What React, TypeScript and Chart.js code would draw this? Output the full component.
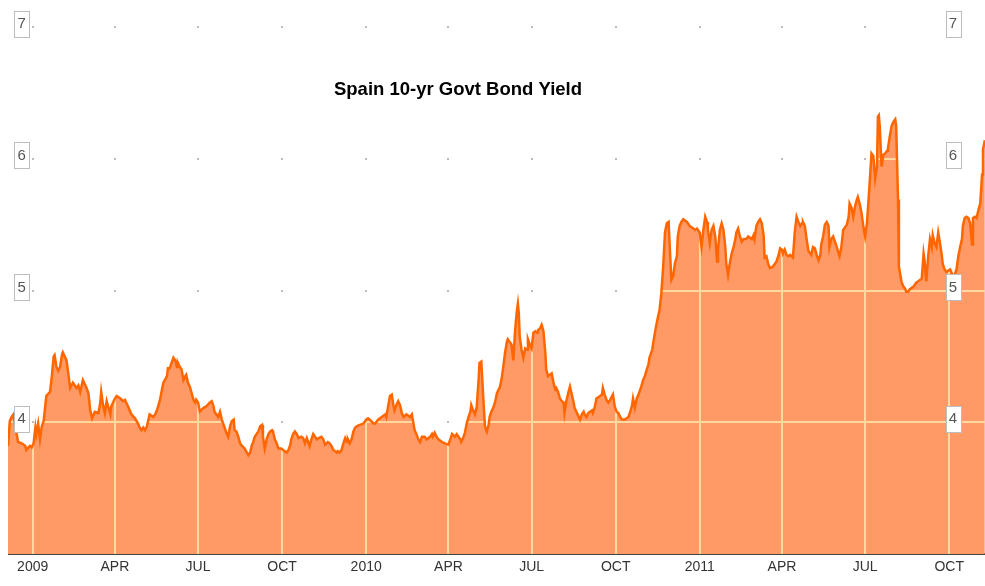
import { useEffect, useRef } from "react";
import { Chart, registerables } from "chart.js";

Chart.register(...registerables);

// ---------- data ----------
const chartTitle = "Spain 10-yr Govt Bond Yield";
const baseDate = "2009-01-01"; // day offsets are counted from this date

const dayOffsets = [
  -27, -25, -23, -21, -19, -17, -16, -12, -8, -7, -3, -1, 1, 3, 4, 6, 8, 10, 12, 15,
  19, 21, 23, 24, 26, 28, 30, 32, 33, 35, 37, 39, 41, 44, 48, 50, 52, 55, 59, 61,
  63, 65, 68, 72, 74, 75, 77, 79, 81, 83, 85, 86, 90, 92, 96, 99, 101, 105, 108, 112,
  116, 117, 119, 121, 123, 125, 127, 128, 132, 134, 136, 139, 141, 143, 147, 148,
  150, 154, 156, 158, 159, 161, 163, 165, 167, 168, 170, 172, 174, 176, 178, 179, 181, 183, 187, 190,
  194, 196, 198, 199, 203, 205, 207, 210, 212, 214, 216, 218, 220, 221, 223, 225, 227, 229, 232, 236,
  238, 240, 241, 243, 247, 249, 251, 252, 254, 256, 258, 260, 262, 263, 265, 267, 269, 272, 276, 278,
  280, 282, 283, 285, 287, 289, 291, 294, 296, 298, 300, 303, 305, 307, 311, 313, 316, 318, 320, 323,
  325, 327, 329, 331, 333, 334, 336, 338, 340, 342, 344, 345, 347, 349, 351, 353, 355, 358, 362, 365,
  367, 369, 373, 375, 378, 382, 386, 387, 389, 391, 393, 395, 396, 398, 400, 402, 404, 406, 409, 413,
  415, 416, 418, 420, 422, 424, 426, 429, 431, 435, 437, 438, 440, 442, 444, 448, 451, 455, 457, 459,
  462, 464, 468, 469, 471, 473, 475, 477, 479, 480, 482, 484, 486, 488, 489, 491, 493, 495, 497,
  499, 500, 502, 504, 506, 508, 510, 511, 513, 515, 517, 519, 520, 522, 524, 526, 528, 530, 531, 532,
  533, 535, 537, 539, 541, 542, 544, 546, 548, 550, 552, 553, 555, 557, 559, 561, 562, 564, 566, 568,
  570, 572, 573, 575, 577, 579, 581, 582, 584, 586, 588, 590, 592, 593, 595, 599, 601, 603, 604, 606,
  608, 612, 613, 615, 617, 621, 623, 624, 626, 628, 630, 632, 635, 637, 639, 641, 643, 645, 648, 652,
  654, 656, 657, 659, 661, 663, 665, 666, 668, 670, 672, 674, 675,
  678, 680, 682, 684, 686, 688, 690, 692, 694, 696, 697, 699, 701, 703, 705, 706, 708, 710, 712, 716,
  717, 719, 723, 725, 727, 728, 730, 732, 734, 736, 738, 739, 741, 743, 745, 747, 749, 750, 752, 754,
  756, 758, 759, 761, 763, 765, 767, 769, 770, 772, 774, 776, 778, 781, 783, 787, 789, 790, 792, 794,
  796, 798, 800, 801, 803, 805, 807, 810, 814, 816, 818, 820, 821, 823, 825, 827, 829, 832, 834, 836,
  838, 840,
  842, 843, 845, 847, 849, 851, 852, 854, 856, 858, 860, 862, 863, 865, 867, 869, 871, 872, 874, 876,
  878, 880, 882, 883, 885, 887, 891, 893, 894, 896, 898, 900, 902, 903, 905, 907, 909, 911, 913, 914,
  916, 918, 920, 922, 924, 925, 926, 927, 929, 931, 933, 935, 936, 938, 940, 942, 944, 945, 947, 948,
  951, 953, 955, 956, 958, 960, 964, 967, 971, 973, 975, 976, 978, 980, 982, 984, 985, 987, 989, 991,
  993, 995, 996, 998, 1000, 1004, 1006, 1007, 1009, 1011, 1013, 1015, 1017, 1018, 1020, 1022, 1024, 1026, 1028, 1029,
  1031, 1033, 1035, 1037, 1039, 1040, 1042,
];

const yields = [
  3.82, 4.01, 4.04, 4.06, 3.97, 3.89, 3.85, 3.84, 3.82, 3.79, 3.82, 3.81, 3.84, 3.96, 3.91, 3.99, 3.87, 3.97, 4.01, 4.2,
  4.23, 4.35, 4.5, 4.51, 4.42, 4.39, 4.42, 4.51, 4.53, 4.5, 4.47, 4.37, 4.26, 4.3, 4.26, 4.28, 4.23, 4.32, 4.26, 4.22,
  4.09, 4.03, 4.08, 4.07, 4.15, 4.23, 4.13, 4.07, 4.16, 4.11, 4.06, 4.12, 4.18, 4.2, 4.18, 4.16, 4.17, 4.11, 4.06, 4.03,
  3.98, 3.96, 3.94, 3.96, 3.94, 3.97, 4.03, 4.06, 4.04, 4.06, 4.09, 4.16, 4.23, 4.3, 4.35, 4.41,
  4.41, 4.49, 4.47, 4.42, 4.45, 4.42, 4.4, 4.32, 4.35, 4.36, 4.3, 4.27, 4.22, 4.17, 4.15, 4.17, 4.15, 4.08, 4.11, 4.12,
  4.15, 4.16, 4.12, 4.08, 4.04, 4.08, 4.02, 3.96, 3.92, 3.89, 3.97, 4.01, 4.02, 3.94, 3.93, 3.89, 3.84, 3.82, 3.8, 3.75,
  3.77, 3.83, 3.84, 3.89, 3.93, 3.97, 3.98, 3.89, 3.8, 3.87, 3.91, 3.93, 3.94, 3.93, 3.87, 3.84, 3.8, 3.8, 3.78, 3.77,
  3.79, 3.83, 3.87, 3.91, 3.93, 3.91, 3.88, 3.89, 3.88, 3.84, 3.88, 3.82, 3.87, 3.91, 3.87, 3.88, 3.89, 3.87, 3.83, 3.85,
  3.84, 3.82, 3.79, 3.78, 3.77, 3.78, 3.77, 3.79, 3.84, 3.88, 3.85, 3.87, 3.84, 3.87, 3.93, 3.96, 3.97, 3.98, 3.99, 4.02,
  4.03, 4.02, 3.99, 3.99, 4.02, 4.04, 4.06, 4.04, 4.12, 4.2, 4.21, 4.12, 4.09, 4.13, 4.16, 4.13, 4.07, 4.04, 4.06, 4.04,
  4.06, 4.02, 3.94, 3.91, 3.87, 3.85, 3.89, 3.89, 3.87, 3.89, 3.91, 3.89, 3.92, 3.89, 3.87, 3.85, 3.84, 3.83, 3.87, 3.91,
  3.89, 3.91, 3.87, 3.85, 3.88, 3.92, 3.99, 4.04, 4.08, 4.13, 4.09, 4.06, 4.12, 4.32, 4.45, 4.46, 4.2, 3.97, 3.93,
  3.98, 4.04, 4.08, 4.11, 4.15, 4.22, 4.25, 4.26, 4.32, 4.42, 4.53, 4.61, 4.63, 4.61, 4.59, 4.47, 4.7, 4.85, 4.9, 4.83,
  4.65, 4.55, 4.49, 4.56, 4.55, 4.63, 4.59, 4.56, 4.68, 4.69, 4.68, 4.7, 4.71, 4.74, 4.69, 4.53, 4.4, 4.35, 4.36, 4.37,
  4.3, 4.25, 4.26, 4.23, 4.18, 4.16, 4.15, 4.07, 4.16, 4.22, 4.27, 4.21, 4.15, 4.11, 4.08, 4.02, 4.06, 4.08, 4.06, 4.04,
  4.07, 4.09, 4.07, 4.11, 4.18, 4.2, 4.21, 4.26, 4.21, 4.17, 4.15, 4.17, 4.21, 4.12, 4.08, 4.07, 4.04, 4.02, 4.02, 4.04,
  4.08, 4.13, 4.18, 4.11, 4.18, 4.21, 4.25, 4.27, 4.32, 4.35, 4.4, 4.44, 4.49,
  4.55, 4.64, 4.72, 4.79, 4.85, 4.98, 5.18, 5.44, 5.51, 5.52, 5.36, 5.08, 5.11, 5.21, 5.26, 5.41, 5.49, 5.52, 5.54, 5.52,
  5.51, 5.49, 5.47, 5.46, 5.47, 5.46, 5.44, 5.33, 5.46, 5.56, 5.52, 5.46, 5.36, 5.46, 5.49, 5.41, 5.22, 5.31, 5.46, 5.51,
  5.46, 5.33, 5.21, 5.12, 5.21, 5.28, 5.33, 5.39, 5.44, 5.47, 5.41, 5.37, 5.39, 5.39, 5.41, 5.39, 5.42, 5.39, 5.49, 5.52,
  5.54, 5.51, 5.41, 5.25, 5.26, 5.2, 5.17, 5.18, 5.22, 5.26, 5.32, 5.31, 5.28, 5.31, 5.27, 5.26, 5.27, 5.25, 5.44, 5.56,
  5.52, 5.49,
  5.51, 5.52, 5.49, 5.39, 5.3, 5.28, 5.27, 5.33, 5.32, 5.27, 5.23, 5.27, 5.35, 5.41, 5.5, 5.52, 5.49, 5.33, 5.39, 5.41,
  5.37, 5.33, 5.28, 5.26, 5.33, 5.46, 5.5, 5.56, 5.66, 5.63, 5.56, 5.64, 5.69, 5.71, 5.66, 5.59, 5.49, 5.41, 5.51, 5.61,
  5.82, 6.04, 6.02, 5.85, 5.94, 6.32, 6.33, 6.25, 5.94, 6.03, 6.04, 6.06, 6.08, 6.17, 6.25, 6.28, 6.3, 6.25, 5.69, 5.18,
  5.06, 5.03, 5.01, 4.99, 4.99, 5.01, 5.03, 5.06, 5.08, 5.09, 5.28, 5.23, 5.07, 5.26, 5.39, 5.33, 5.42, 5.36, 5.33, 5.44,
  5.36, 5.26, 5.2, 5.16, 5.14, 5.16, 5.13, 5.11, 5.12, 5.16, 5.26, 5.33, 5.39, 5.49, 5.55, 5.56, 5.55, 5.51, 5.35, 5.55,
  5.56, 5.55, 5.61, 5.66, 5.88, 6.07, 6.14,
];

const xTickDates = [
  "2009-01-01", "2009-04-01", "2009-07-01", "2009-10-01",
  "2010-01-01", "2010-04-01", "2010-07-01", "2010-10-01",
  "2011-01-01", "2011-04-01", "2011-07-01", "2011-10-01",
];
const xTickLabels = ["2009", "APR", "JUL", "OCT", "2010", "APR", "JUL", "OCT", "2011", "APR", "JUL", "OCT"];
const yTickValues = [4, 5, 6, 7];
const yMin = 3;
const yMax = 7;
const xStartDay = -27;
const xEndDay = 1042.2;

// ---------- helpers ----------
const DAY = 86400000;
const toDay = (iso: string) => Math.round((Date.parse(iso + "T00:00:00Z") - Date.parse(baseDate + "T00:00:00Z")) / DAY);
const xTickDays = xTickDates.map(toDay);

const FONT = "'Liberation Sans', Arial, Helvetica, sans-serif";

const decorPlugin = {
  id: "decor",
  beforeDatasetsDraw(chart: any) {
    const ctx = chart.ctx;
    const xs = chart.scales.x;
    const ys = chart.scales.y;
    ctx.save();
    ctx.fillStyle = "#bdbdbd";
    for (const d of xTickDays) {
      const px = Math.round(xs.getPixelForValue(d));
      for (const v of yTickValues) {
        const py = Math.round(ys.getPixelForValue(v));
        ctx.fillRect(px - 1, py - 1, 2, 2);
      }
    }
    ctx.restore();
  },
  beforeDatasetDraw(chart: any, args: any) {
    if (args.index !== 1) return;
    const ctx = chart.ctx;
    const xs = chart.scales.x;
    const ys = chart.scales.y;
    const area = chart.chartArea;
    const pts = chart.getDatasetMeta(0).data;
    if (!pts.length) return;
    ctx.save();
    ctx.beginPath();
    ctx.moveTo(pts[0].x, area.bottom);
    for (const p of pts) ctx.lineTo(p.x, p.y);
    ctx.lineTo(pts[pts.length - 1].x, area.bottom);
    ctx.closePath();
    ctx.clip();
    ctx.strokeStyle = "#ffd9a0";
    ctx.lineWidth = 2;
    ctx.beginPath();
    for (const v of yTickValues) {
      const py = Math.round(ys.getPixelForValue(v));
      ctx.moveTo(area.left, py);
      ctx.lineTo(area.right, py);
    }
    for (const d of xTickDays) {
      const px = Math.round(xs.getPixelForValue(d));
      ctx.moveTo(px, area.top);
      ctx.lineTo(px, area.bottom);
    }
    ctx.stroke();
    ctx.restore();
  },
  afterDraw(chart: any) {
    const ctx = chart.ctx;
    const ys = chart.scales.y;
    const area = chart.chartArea;
    ctx.save();
    ctx.fillStyle = "#000";
    ctx.font = `bold 18.5px ${FONT}`;
    ctx.textAlign = "center";
    ctx.textBaseline = "middle";
    ctx.fillText(chartTitle, area.left + 450, area.top + 63);
    const drawBox = (cx: number, gy: number, text: string) => {
      const w = 15;
      const h = 26;
      const cy = gy - 3.5;
      const x0 = Math.round(cx - w / 2) + 0.5;
      const y0 = Math.round(cy - h / 2) + 0.5;
      ctx.fillStyle = "#ffffff";
      ctx.fillRect(x0, y0, w, h);
      ctx.strokeStyle = "#bdbdbd";
      ctx.lineWidth = 1;
      ctx.strokeRect(x0, y0, w, h);
      ctx.fillStyle = "#555";
      ctx.font = `15px ${FONT}`;
      ctx.textAlign = "center";
      ctx.textBaseline = "middle";
      ctx.fillText(text, cx, cy + 0.5);
    };
    for (const v of yTickValues) {
      const gy = ys.getPixelForValue(v);
      drawBox(area.left + 13.7, gy, String(v));
      drawBox(area.right - 32, gy, String(v));
    }
    ctx.restore();
  },
};

export default function App() {
  const ref = useRef<HTMLCanvasElement | null>(null);

  useEffect(() => {
    const prevMargin = document.body.style.margin;
    document.body.style.margin = "0";
    if (!ref.current) return;
    const n = Math.min(dayOffsets.length, yields.length);
    const points = [];
    for (let i = 0; i < n; i++) points.push({ x: dayOffsets[i], y: yields[i] });

    const chart = new Chart(ref.current, {
      type: "line",
      data: {
        datasets: [
          {
            data: points,
            borderWidth: 0,
            borderColor: "rgba(0,0,0,0)",
            backgroundColor: "#ff9966",
            fill: "start",
            pointRadius: 0,
            tension: 0,
            order: 2,
          },
          {
            data: points,
            borderWidth: 2.5,
            borderColor: "#ff6600",
            fill: false,
            pointRadius: 0,
            tension: 0,
            order: 1,
          },
        ],
      },
      options: {
        animation: false,
        responsive: false,
        events: [],
        layout: { padding: { top: 19, left: 0, right: 0, bottom: 0 } },
        plugins: {
          legend: { display: false },
          tooltip: { enabled: false },
          title: { display: false },
        },
        scales: {
          x: {
            type: "linear",
            min: xStartDay,
            max: xEndDay,
            afterBuildTicks: (scale: any) => {
              scale.ticks = xTickDays.map((v) => ({ value: v }));
            },
            afterFit: (scale: any) => {
              scale.height = 32;
            },
            ticks: {
              autoSkip: false,
              maxRotation: 0,
              padding: 5,
              color: "#333",
              font: { family: FONT, size: 14 },
              callback: (_v: any, i: number) => xTickLabels[i],
            },
            grid: { display: false, drawTicks: false },
            border: { display: true, color: "#444", width: 2 },
          },
          y: {
            type: "linear",
            min: yMin,
            max: yMax,
            display: false,
          },
        },
      },
      plugins: [decorPlugin],
    });
    return () => {
      chart.destroy();
      document.body.style.margin = prevMargin;
    };
  }, []);

  return (
    <div style={{ width: 985, height: 586, padding: "8px 0 0 8px", boxSizing: "border-box", overflow: "hidden" }}>
      <canvas ref={ref} width={977} height={578} style={{ display: "block" }} />
    </div>
  );
}
